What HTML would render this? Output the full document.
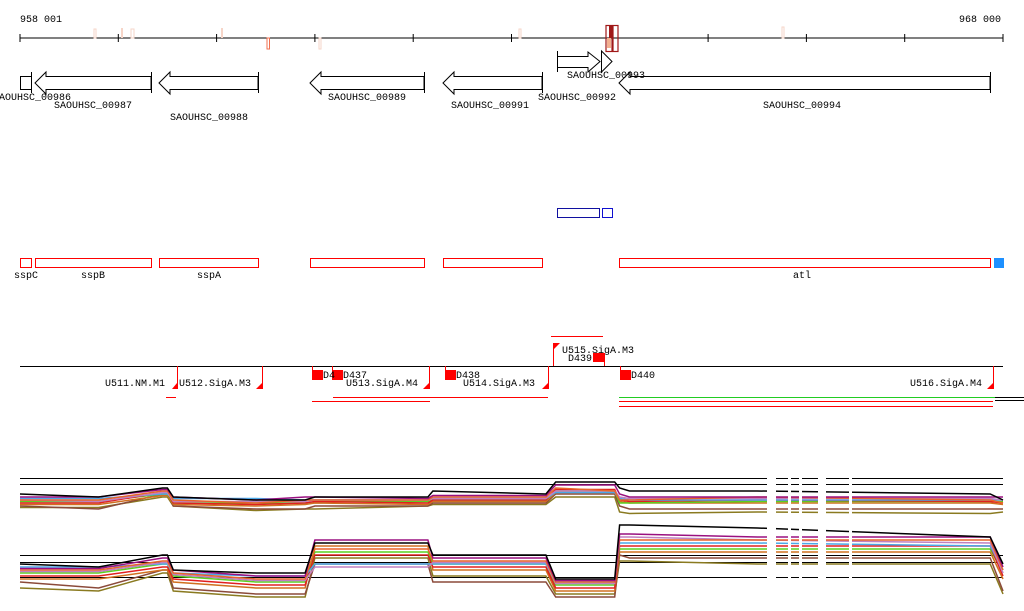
<!DOCTYPE html>
<html><head><meta charset="utf-8">
<style>
html,body{margin:0;padding:0;background:#fff;width:1024px;height:611px;overflow:hidden}
svg{display:block}
text{font-family:"Liberation Mono",monospace;font-size:10px;fill:#000}
</style></head>
<body>
<svg id="chart" width="1024" height="611" viewBox="0 0 1024 611">
  <g>
    <text x="20" y="22">958 001</text>
    <text x="1001" y="22" text-anchor="end">968 000</text>
    <line x1="20" y1="38" x2="1003" y2="38" stroke="#000"/>
    <g id="ticks"></g>
    <g>
      <rect x="94" y="29" width="2" height="9" fill="none" stroke="#f6d5c8"/>
      <rect x="121" y="28" width="2" height="10" fill="#f6d5c8"/>
      <rect x="131" y="29" width="3" height="9" fill="none" stroke="#f6d5c8"/>
      <rect x="221" y="28" width="2" height="10" fill="#f6d5c8"/>
      <rect x="267" y="38" width="2.5" height="11" fill="none" stroke="#f07050"/>
      <rect x="319" y="38" width="2" height="11" fill="none" stroke="#f6d5c8"/>
      <rect x="519" y="29" width="2" height="9" fill="none" stroke="#f6d5c8"/>
      <rect x="606" y="25.5" width="6" height="26" fill="none" stroke="#a01818" stroke-width="1.2"/>
      <rect x="607" y="38" width="4" height="10" fill="#f3b090"/>
      <rect x="609" y="26" width="3" height="12" fill="#a01818"/>
      <rect x="613" y="25.5" width="5" height="26" fill="none" stroke="#a01818" stroke-width="1.2"/>
      <rect x="782" y="27" width="2" height="11" fill="none" stroke="#f6d5c8"/>
    </g>
  </g>

  <g fill="none" stroke="#000" stroke-width="1">
    <g>
      <rect x="20.5" y="76.5" width="11" height="13"/>
      <line x1="31.5" y1="72" x2="31.5" y2="93"/>
      <text x="32" y="100" text-anchor="middle" stroke="none">SAOUHSC_00986</text>
    </g>
    <g>
      <polygon points="35,83 46,72 46,76.5 151,76.5 151,89.5 46,89.5 46,94" fill="#fff"/>
      <line x1="151.5" y1="72" x2="151.5" y2="93"/>
      <text x="93" y="108" text-anchor="middle" stroke="none">SAOUHSC_00987</text>
    </g>
    <g>
      <polygon points="159,83 170,72 170,76.5 258,76.5 258,89.5 170,89.5 170,94"/>
      <line x1="258.5" y1="72" x2="258.5" y2="93"/>
      <text x="209" y="120" text-anchor="middle" stroke="none">SAOUHSC_00988</text>
    </g>
    <g>
      <polygon points="310,83 321,72 321,76.5 424,76.5 424,89.5 321,89.5 321,94"/>
      <line x1="424.5" y1="72" x2="424.5" y2="93"/>
      <text x="367" y="100" text-anchor="middle" stroke="none">SAOUHSC_00989</text>
    </g>
    <g>
      <polygon points="443,83 454,72 454,76.5 542,76.5 542,89.5 454,89.5 454,94"/>
      <line x1="542.5" y1="72" x2="542.5" y2="93"/>
      <text x="490" y="108" text-anchor="middle" stroke="none">SAOUHSC_00991</text>
    </g>
    <g>
      <line x1="557.5" y1="51" x2="557.5" y2="72"/>
      <polygon points="557.5,56.5 588,56.5 588,52 600,61.5 588,72 588,67.5 557.5,67.5"/>
      <text x="577" y="100" text-anchor="middle" stroke="none">SAOUHSC_00992</text>
    </g>
    <g>
      <line x1="601.5" y1="51" x2="601.5" y2="72"/>
      <polygon points="601.5,51 612,61.5 601.5,72"/>
      <text x="606" y="78" text-anchor="middle" stroke="none">SAOUHSC_00993</text>
    </g>
    <g>
      <polygon points="619,83 630,72 630,76.5 990,76.5 990,89.5 630,89.5 630,94" fill="none"/>
      <line x1="990.5" y1="72" x2="990.5" y2="93"/>
      <text x="802" y="108" text-anchor="middle" stroke="none">SAOUHSC_00994</text>
    </g>
  </g>

  <g>
    <rect x="557.5" y="208.5" width="42" height="9" fill="none" stroke="#1010a0"/>
    <rect x="602.5" y="208.5" width="10" height="9" fill="none" stroke="#1010d0"/>
  </g>

  <g fill="none" stroke="#f00">
    <rect x="20.5" y="258.5" width="11" height="9"/>
    <rect x="35.5" y="258.5" width="116" height="9"/>
    <rect x="159.5" y="258.5" width="99" height="9"/>
    <rect x="310.5" y="258.5" width="114" height="9"/>
    <rect x="443.5" y="258.5" width="99" height="9"/>
    <rect x="619.5" y="258.5" width="371" height="9"/>
    <rect x="994" y="258" width="10" height="10" fill="#1e90ff" stroke="none"/>
    <text x="26" y="278" text-anchor="middle" stroke="none">sspC</text>
    <text x="93" y="278" text-anchor="middle" stroke="none">sspB</text>
    <text x="209" y="278" text-anchor="middle" stroke="none">sspA</text>
    <text x="802" y="278" text-anchor="middle" stroke="none">atl</text>
  </g>

  <g>
    <line x1="20" y1="366.5" x2="1003" y2="366.5" stroke="#000"/>
    <g stroke="#f00" fill="none">
      <line x1="177.5" y1="366" x2="177.5" y2="389"/>
      <line x1="262.5" y1="366" x2="262.5" y2="389"/>
      <line x1="312.5" y1="366" x2="312.5" y2="380"/>
      <line x1="332.5" y1="366" x2="332.5" y2="380"/>
      <line x1="429.5" y1="366" x2="429.5" y2="389"/>
      <line x1="445.5" y1="366" x2="445.5" y2="380"/>
      <line x1="548.5" y1="366" x2="548.5" y2="389"/>
      <line x1="553.5" y1="343" x2="553.5" y2="366"/>
      <line x1="604.5" y1="353" x2="604.5" y2="366"/>
      <line x1="620.5" y1="366" x2="620.5" y2="380"/>
      <line x1="993.5" y1="366" x2="993.5" y2="389"/>
      <line x1="551" y1="336.5" x2="603" y2="336.5"/>
      <line x1="166" y1="397.5" x2="176" y2="397.5"/>
      <line x1="333" y1="397.5" x2="548" y2="397.5"/>
      <line x1="312" y1="401.5" x2="430" y2="401.5"/>
      <line x1="619" y1="397.5" x2="1003" y2="397.5" stroke="#2c2"/>
      <line x1="619" y1="401.5" x2="993" y2="401.5"/>
      <line x1="619" y1="406.5" x2="993" y2="406.5"/>
    </g>
    <g fill="#f00">
      <polygon points="172,389 177,389 177,383"/>
      <polygon points="256,389 262,389 262,383"/>
      <polygon points="423,389 429,389 429,383"/>
      <polygon points="542,389 548,389 548,383"/>
      <polygon points="987,389 993,389 993,383"/>
      <polygon points="553,343 560,343 553,350"/>
      <rect x="312" y="370" width="11" height="10"/>
      <rect x="332" y="370" width="11" height="10"/>
      <rect x="445" y="370" width="11" height="10"/>
      <rect x="593" y="353" width="11" height="9"/>
      <rect x="620" y="370" width="11" height="10"/>
    </g>
    <line x1="995" y1="397.5" x2="1024" y2="397.5" stroke="#000"/>
    <line x1="995" y1="400.5" x2="1024" y2="400.5" stroke="#000"/>
    <text x="165" y="386" text-anchor="end">U511.NM.M1</text>
    <text x="179" y="386">U512.SigA.M3</text>
    <text x="323" y="378">D4</text>
    <text x="343" y="378">D437</text>
    <text x="346" y="386">U513.SigA.M4</text>
    <text x="456" y="378">D438</text>
    <text x="463" y="386">U514.SigA.M3</text>
    <text x="562" y="353">U515.SigA.M3</text>
    <text x="568" y="361">D439</text>
    <text x="631" y="378">D440</text>
    <text x="982" y="386" text-anchor="end">U516.SigA.M4</text>
  </g>

  <g id="expr"></g>
</svg>
<script>
// genome positions (bp offset from 958001) of sample points
const positions = [0, 800, 1450, 1500, 1560, 2400, 2900, 3000, 4150, 4200, 5350, 5450, 6050, 6100, 6200, 7500, 9870, 10000];
const tickPositions = [0, 1000, 2000, 3000, 4000, 5000, 6000, 7000, 8000, 9000, 10000];
const seriesColors = ["#000000", "#8b4a3a", "#e8642a", "#4aa8e8", "#5ad020", "#9a1080", "#8a7a20", "#e02020", "#c080c0", "#d07020"];
// top panel (condition A), expression values
const topBlack  = [7,6,9,9,6,5,5,6,6,8,7,11,11,9,8,8,7,5];
const topBrown  = [3,2,7,7,3,2,2,3,3,4,4,7,7,3,2,2,2,2];
const topOrange = [5,5,8,8,5,4,5,5,5,6,6,9,8,5,5,6,5,4];
const topBlue   = [5.5,5.5,7,7,5.5,5.5,5,5,5,5.5,5.5,7.5,7.5,5.5,5,5,5,5];
const topGreen  = [4.5,4.5,7,7,4,4,4,4.5,4.5,5,5,8,8,4,4,4.5,4.5,4.5];
const topPurple = [6,6,8.5,8.5,6,5,6,6,5.5,6.5,6.5,10,10,7,6,6,6,6];
const topOlive  = [2.5,2.5,6,6,3,1.5,2,2,3,3.5,3.5,6,6,1,0.5,1,0.5,1];
const topRed    = [4,4,7.5,7.5,4,3.5,4,4.5,4,5,5,8.5,8.5,5,4.5,5,4.5,4];
const topPink   = [5,4.5,7.5,7.5,4.5,4.5,4.5,5,5,5.5,5.5,8,8,6,5.5,5.5,5.5,5];
const topAmber  = [3.5,3.5,6.5,6.5,3.5,3,3.5,4,3.5,4.5,4.5,7.5,7.5,4.5,4,4,4,3.5];
// bottom panel (condition B)
const botBlack  = [12,11,15,15,10,9,9,19,19,15,15,7,7,25,25,24,21,12];
const botBrown  = [6,4,10,10,4,2,2,12,12,6,6,1,1,15,14,14,14,3];
const botOrange = [10,10,13,13,9,7,7,17,17,13,13,6,6,20,20,20,20,10];
const botBlue   = [11,11,12,12,9,8,8,12,12,12,12,6,6,19,19,19,18,10];
const botGreen  = [9,9,12,12,8,6,6,16,16,12,12,5,5,17,17,17,17,9];
const botPurple = [10.5,10.5,14,14,10,8,8,20,20,14,14,6.5,6.5,22,22,21,21,11];
const botOlive  = [4,3,9,9,3,1,1,14,14,8,8,2,2,13,13,12,12,2];
const botRed    = [8,8,11,11,7,5,5,15,15,11,11,4,4,18,18,18,18,8];
const botPink   = [9.5,9.5,12.5,12.5,8.5,6.5,6.5,11,11,12.5,12.5,5.5,5.5,21,21,20,19,9];
const botAmber  = [7,7,10,10,6,4,4,18,18,10,10,3,3,16,16,16,16,7];

const NS = "http://www.w3.org/2000/svg";
function xScale(p){ return 20 + p / 10000 * 983; }
function yTop(v){ return 515 - 3 * v; }
function yBot(v){ return 600 - 3 * v; }

const ticksG = document.getElementById("ticks");
tickPositions.forEach(function(p){
  const t = document.createElementNS(NS, "line");
  t.setAttribute("x1", xScale(p)); t.setAttribute("x2", xScale(p));
  t.setAttribute("y1", 34); t.setAttribute("y2", 42);
  t.setAttribute("stroke", "#000");
  
  
  ticksG.appendChild(t);
});

const expr = document.getElementById("expr");
function refLine(y){
  const l = document.createElementNS(NS, "line");
  l.setAttribute("x1", 20); l.setAttribute("x2", 1003);
  l.setAttribute("y1", y + 0.5); l.setAttribute("y2", y + 0.5);
  l.setAttribute("stroke", "#000");
  
  
  expr.appendChild(l);
}
function drawSeries(vals, color, yf, name){
  const pts = vals.map(function(v, i){ return xScale(positions[i]).toFixed(1) + "," + yf(v).toFixed(1); }).join(" ");
  const pl = document.createElementNS(NS, "polyline");
  pl.setAttribute("points", pts);
  pl.setAttribute("fill", "none");
  pl.setAttribute("stroke", color);
  pl.setAttribute("stroke-width", "1.5");
  
  
  expr.appendChild(pl);
}
[478, 484].forEach(refLine);
[555, 562, 577].forEach(refLine);
const topSeries = [topOlive, topBrown, topAmber, topGreen, topRed, topBlue, topPink, topOrange, topPurple, topBlack];
const botSeries = [botOlive, botBrown, botAmber, botGreen, botRed, botBlue, botPink, botOrange, botPurple, botBlack];
const order = [6, 1, 9, 4, 7, 3, 8, 2, 5, 0];
topSeries.forEach(function(s, i){ drawSeries(s, seriesColors[order[i]], yTop, "top-expression-line"); });
botSeries.forEach(function(s, i){ drawSeries(s, seriesColors[order[i]], yBot, "bottom-expression-line"); });
// data gaps
[[767,776],[788,791],[799,802],[818,826],[849,852]].forEach(function(g){
  const r = document.createElementNS(NS, "rect");
  r.setAttribute("x", g[0]); r.setAttribute("width", g[1] - g[0]);
  r.setAttribute("y", 470); r.setAttribute("height", 135);
  r.setAttribute("fill", "#fff");
  
  
  expr.appendChild(r);
});
</script>
</body></html>
